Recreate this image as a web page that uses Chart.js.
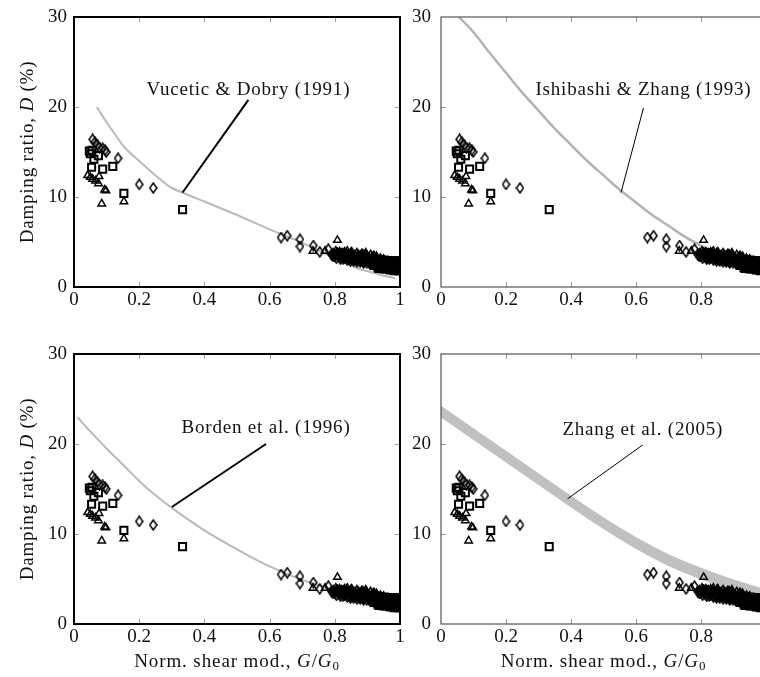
<!DOCTYPE html>
<html><head><meta charset="utf-8">
<script src="https://cdn.jsdelivr.net/npm/chart.js@4/dist/chart.umd.min.js"></script>
<style>
html,body{margin:0;padding:0;background:#fff;overflow:hidden;width:760px;height:677px;}
canvas{position:absolute;}
</style></head><body>
<canvas id="c1" width="420" height="320" style="left:0px;top:0px"></canvas>
<canvas id="c2" width="400" height="320" style="left:400px;top:0px"></canvas>
<canvas id="c3" width="420" height="340" style="left:0px;top:337px"></canvas>
<canvas id="c4" width="400" height="340" style="left:400px;top:337px"></canvas>
<script>
// ---- tick labels ----
const xTickValues = [0, 0.2, 0.4, 0.6, 0.8, 1];
const xTickLabels = ['0', '0.2', '0.4', '0.6', '0.8', '1'];
const yTickValues = [0, 10, 20, 30];
const yTickLabels = ['0', '10', '20', '30'];

// ---- measured data (G/G0, D %) ----
const diamondPts = [
  [0.057,16.4],[0.064,16.1],[0.071,15.8],[0.078,15.5],[0.088,15.4],[0.095,15.2],[0.099,15.0],[0.135,14.3],[0.200,11.4],[0.243,11.0],
  [0.635,5.5],[0.654,5.7],[0.693,5.3],[0.693,4.5],[0.734,4.6],[0.754,3.9],[0.780,4.2],
  [0.790,3.6],[0.800,3.4],[0.808,3.8],[0.815,3.3],[0.822,3.6],[0.830,3.2],[0.836,3.5],[0.843,3.1],[0.850,3.4],[0.856,3.0],
  [0.862,3.3],[0.870,3.2],[0.876,2.9],[0.882,3.1],[0.890,2.8],[0.898,3.0],[0.905,2.7],[0.912,2.9],
  [0.803,3.6],[0.812,3.5],[0.818,3.7],[0.826,3.4],[0.833,3.3],[0.840,3.6],[0.846,3.2],[0.853,3.5],[0.859,3.2],
  [0.866,3.1],[0.873,3.4],[0.879,3.0],[0.886,3.2],[0.893,2.9],[0.901,3.1],[0.908,2.8],[0.916,3.0],[0.920,2.7],
  [0.805,3.2],[0.817,3.1],[0.828,3.7],[0.838,3.0],[0.848,2.9],[0.858,2.9],[0.868,2.8],[0.878,2.8],[0.888,2.7],
  [0.898,2.7],[0.910,2.6],[0.795,3.4],[0.825,3.1],[0.845,3.1],[0.865,3.0],[0.885,2.9],[0.905,2.8]
];
const squarePts = [
  [0.047,15.1],[0.050,14.8],[0.055,15.2],[0.061,14.2],[0.075,14.6],[0.054,13.3],[0.088,13.1],[0.119,13.4],[0.153,10.4],[0.333,8.6],
  [0.918,2.7],[0.924,2.5],[0.930,2.9],[0.934,2.3],[0.940,2.7],[0.945,2.5],[0.950,2.8],[0.954,2.2],[0.958,2.6],[0.963,2.8],
  [0.967,2.3],[0.971,2.0],[0.975,2.6],[0.979,2.8],[0.983,2.2],[0.987,2.5],[0.991,1.9],[0.994,2.7],[0.997,2.3],[1.000,2.0],[1.000,2.6],
  [0.920,2.4],[0.928,2.6],[0.936,2.8],[0.942,2.3],[0.948,2.6],[0.952,2.4],[0.956,2.9],[0.961,2.1],[0.965,2.5],[0.969,2.7],
  [0.973,2.2],[0.977,2.4],[0.981,2.0],[0.985,2.7],[0.989,2.3],[0.993,2.1],[0.996,2.5],[1.000,2.2],[1.000,2.8],[0.990,2.6],
  [0.960,2.4],[0.940,2.5],[0.930,2.6],
  [0.922,2.8],[0.932,2.2],[0.938,3.0],[0.944,2.1],[0.952,3.0],[0.958,2.0],[0.964,2.9],[0.970,1.9],[0.976,2.9],[0.982,1.8],
  [0.988,2.9],[0.995,1.8],[1.000,1.8],[0.998,2.9],[0.950,2.0],[0.935,2.05]
];
const trianglePts = [
  [0.042,12.4],[0.050,12.2],[0.057,12.0],[0.066,11.8],[0.077,12.3],[0.075,11.5],[0.094,10.8],[0.098,10.7],[0.085,9.25],[0.153,9.5],
  [0.733,4.0],[0.770,4.0],[0.808,5.2],
  [0.795,3.8],[0.805,3.5],[0.815,3.9],[0.825,3.6],[0.835,3.8],[0.842,3.4],[0.850,3.7],[0.858,3.5],[0.865,3.3],[0.872,3.6],
  [0.880,3.4],[0.886,3.7],[0.893,3.2],[0.900,3.4],[0.908,3.1],[0.915,3.3],[0.922,3.0],[0.930,3.1],
  [0.800,3.6],[0.810,3.7],[0.820,3.5],[0.830,3.9],[0.840,3.6],[0.848,3.8],[0.855,3.4],[0.862,3.6],[0.870,3.4],
  [0.877,3.5],[0.884,3.3],[0.890,3.5],[0.897,3.6],[0.905,3.3],[0.912,3.2],[0.918,3.4],[0.926,3.2],[0.935,3.0],
  [0.803,4.0],[0.822,3.8],[0.838,4.0],[0.852,3.9],[0.868,3.8],[0.882,3.7],[0.895,3.8],[0.910,3.6],[0.920,3.5],
  [0.928,3.4],[0.940,3.2],[0.950,3.1]
];

// ---- literature curves ----
const vuceticCurve = [[0.07,20.0],[0.10,18.3],[0.155,15.5],[0.20,14.0],[0.25,12.4],[0.30,11.0],[0.40,9.5],[0.50,8.0],[0.60,6.4],[0.70,4.9],[0.80,3.2],[0.867,2.1],[0.90,1.75],[0.95,1.25],[0.975,1.05],[0.985,1.0]];
const ishibashiCurve = [[0.055,30.0],[0.10,28.3],[0.15,26.0],[0.20,23.8],[0.25,21.6],[0.30,19.6],[0.35,17.6],[0.40,15.8],[0.45,14.0],[0.50,12.4],[0.55,10.8],[0.60,9.4],[0.65,8.0],[0.70,6.8],[0.75,5.6],[0.80,4.6],[0.85,3.6],[0.90,2.7],[0.95,2.0],[1.00,1.3]];
const bordenCurve = [[0.01,23.0],[0.05,21.4],[0.10,19.5],[0.15,17.7],[0.20,15.9],[0.25,14.3],[0.30,12.9],[0.40,10.4],[0.50,8.3],[0.60,6.4],[0.70,4.9],[0.80,3.8],[0.90,2.8],[1.00,2.0]];
const zhangUpper = [[0,24.2],[0.1,21.7],[0.2,19.2],[0.3,16.7],[0.4,14.2],[0.5,11.8],[0.6,9.6],[0.7,7.7],[0.8,6.2],[0.9,4.9],[1.0,3.8]];
const zhangLower = [[0,23.0],[0.1,20.5],[0.2,18.0],[0.3,15.5],[0.4,13.0],[0.5,10.6],[0.6,8.4],[0.7,6.5],[0.8,5.0],[0.9,3.7],[1.0,2.6]];

// ---- annotation anchors (data coords) ----
const labelVucetic = {text:'Vucetic & Dobry (1991)', at:[0.535,21.9], leader:[0.333,10.5,0.535,20.8]};
const labelIshibashi = {text:'Ishibashi & Zhang (1993)', at:[0.623,21.9], leader:[0.554,10.5,0.623,19.9]};
const labelBorden = {text:'Borden et al. (1996)', at:[0.589,21.8], leader:[0.300,13.0,0.589,20.0]};
const labelZhang = {text:'Zhang et al. (2005)', at:[0.621,21.6], leader:[0.389,13.9,0.621,19.9]};

const SERIF = "'Liberation Serif', 'Times New Roman', serif";
const toXY = a => a.map(p => ({x:p[0], y:p[1]}));

function makeDiamond(){
  const c = document.createElement('canvas'); c.width = 9; c.height = 12;
  const g = c.getContext('2d');
  g.beginPath(); g.moveTo(4.5,1); g.lineTo(8,6); g.lineTo(4.5,11); g.lineTo(1,6); g.closePath();
  g.lineWidth = 1.5; g.strokeStyle = '#000'; g.stroke();
  return c;
}
const diamondImg = makeDiamond();

function pointSets(){
  return [
    {type:'scatter', data: toXY(diamondPts), pointStyle: diamondImg, pointRadius:4, order:0},
    {type:'scatter', data: toXY(squarePts), pointStyle:'rect', pointRadius:5, borderColor:'#000', borderWidth:2, backgroundColor:'rgba(0,0,0,0)', order:0},
    {type:'scatter', data: toXY(trianglePts), pointStyle:'triangle', pointRadius:4.3, borderColor:'#000', borderWidth:1.5, backgroundColor:'rgba(0,0,0,0)', order:0}
  ];
}
function curveSet(arr, color, width, mono){
  const d = {type:'line', data: toXY(arr), borderColor: color, borderWidth: width, pointRadius:0, fill:false, order:3};
  if (mono) d.cubicInterpolationMode = 'monotone'; else d.tension = 0.15;
  return d;
}

function drawRich(ctx, segs, cx, cy, spacing){
  const parts = segs.map(s => {
    const size = s.sub ? 13 : 19;
    const font = (s.it ? 'italic ' : '') + size + 'px ' + SERIF;
    ctx.font = font; ctx.letterSpacing = spacing + 'px';
    return {t:s.t, font, w: ctx.measureText(s.t).width, dy: s.sub ? 5 : 0};
  });
  const total = parts.reduce((a,p)=>a+p.w,0);
  let x = cx - total/2;
  ctx.textAlign = 'left'; ctx.textBaseline = 'middle';
  parts.forEach(p => { ctx.font = p.font; ctx.letterSpacing = spacing + 'px'; ctx.fillText(p.t, x, cy + p.dy); x += p.w; });
  ctx.letterSpacing = '0px';
}

const panelPlugin = {
  id: 'panel',
  afterDatasetsDraw(chart, args, o){
    const ctx = chart.ctx, a = chart.chartArea, xs = chart.scales.x, ys = chart.scales.y;
    ctx.save();
    ctx.strokeStyle = '#9a9a9a'; ctx.lineWidth = 1;
    ctx.beginPath();
    xTickValues.forEach(v => {
      if (v <= 0 || v >= 1) return;
      const px = Math.round(xs.getPixelForValue(v)) + 0.5;
      ctx.moveTo(px, a.bottom); ctx.lineTo(px, a.bottom - 5);
      ctx.moveTo(px, a.top); ctx.lineTo(px, a.top + 5);
    });
    yTickValues.forEach(v => {
      if (v <= 0 || v >= 30) return;
      const py = Math.round(ys.getPixelForValue(v)) + 0.5;
      ctx.moveTo(a.left, py); ctx.lineTo(a.left + 5, py);
      ctx.moveTo(a.right, py); ctx.lineTo(a.right - 5, py);
    });
    ctx.stroke();
    ctx.strokeStyle = o.frameColor; ctx.lineWidth = o.frameWidth;
    ctx.strokeRect(a.left, a.top, a.right - a.left, a.bottom - a.top);
    const L = o.label;
    ctx.strokeStyle = '#000'; ctx.lineWidth = o.leaderWidth;
    ctx.beginPath();
    ctx.moveTo(xs.getPixelForValue(L.leader[0]), ys.getPixelForValue(L.leader[1]));
    ctx.lineTo(xs.getPixelForValue(L.leader[2]), ys.getPixelForValue(L.leader[3]));
    ctx.stroke();
    ctx.fillStyle = '#111';
    drawRich(ctx, [{t:L.text}], xs.getPixelForValue(L.at[0]), ys.getPixelForValue(L.at[1]), 0.8);
    if (o.yTitle){
      ctx.save();
      ctx.translate(28, (a.top + a.bottom)/2);
      ctx.rotate(-Math.PI/2);
      drawRich(ctx, [{t:'Damping ratio, '},{t:'D', it:true},{t:' (%)'}], 0, 0, 0.8);
      ctx.restore();
    }
    if (o.xTitle){
      drawRich(ctx, [{t:'Norm. shear mod., '},{t:'G', it:true},{t:'/'},{t:'G', it:true},{t:'0', sub:true}], (a.left + a.right)/2, a.bottom + 38, 0.9);
    }
    ctx.restore();
  }
};

function makeChart(id, curves, opts){
  const tickFont = {family: SERIF, size: 19};
  new Chart(document.getElementById(id), {
    type: 'scatter',
    data: { datasets: pointSets().concat(curves) },
    options: {
      responsive: false, animation: false, events: [],
      layout: { padding: { top: 17, right: opts.padRight, left: 0, bottom: 0 } },
      plugins: { legend: {display:false}, tooltip: {enabled:false}, panel: opts },
      scales: {
        x: {
          type: 'linear', min: 0, max: 1,
          grid: {display:false, drawTicks:false}, border: {display:false},
          afterBuildTicks: s => { s.ticks = xTickValues.map(v => ({value:v})); },
          afterFit: s => { s.height = opts.xAxisH; s.paddingLeft = 0; s.paddingRight = 0; },
          ticks: { font: tickFont, color:'#111', padding: 2, maxRotation: 0, autoSkip: false,
                   callback: (v, i) => xTickLabels[i] }
        },
        y: {
          type: 'linear', min: 0, max: 30,
          grid: {display:false, drawTicks:false}, border: {display:false},
          afterBuildTicks: s => { s.ticks = yTickValues.map(v => ({value:v})); },
          afterFit: s => { s.width = opts.yAxisW; s.paddingTop = 0; s.paddingBottom = 0; },
          ticks: { font: tickFont, color:'#111', padding: opts.yPad, autoSkip: false,
                   callback: (v, i) => yTickLabels[i] }
        }
      }
    },
    plugins: [panelPlugin]
  });
}

makeChart('c1', [curveSet(vuceticCurve, '#b9b9b9', 2, false)],
  {padRight:20, xAxisH:33, yAxisW:74, yPad:7, frameColor:'#000', frameWidth:2, leaderWidth:2, label: labelVucetic, yTitle:true, xTitle:false});
makeChart('c2', [curveSet(ishibashiCurve, '#b3b3b3', 2.5, true)],
  {padRight:34, xAxisH:33, yAxisW:41, yPad:10, frameColor:'#333', frameWidth:1, leaderWidth:1, label: labelIshibashi, yTitle:false, xTitle:false});
makeChart('c3', [curveSet(bordenCurve, '#b9b9b9', 2, true)],
  {padRight:20, xAxisH:53, yAxisW:74, yPad:7, frameColor:'#000', frameWidth:2, leaderWidth:2, label: labelBorden, yTitle:true, xTitle:true});
makeChart('c4', [
  {type:'line', data: toXY(zhangUpper), borderColor:'#c0c0c0', borderWidth:1, pointRadius:0, cubicInterpolationMode:'monotone', fill:'+1', backgroundColor:'#c0c0c0', order:3},
  {type:'line', data: toXY(zhangLower), borderColor:'#c0c0c0', borderWidth:1, pointRadius:0, cubicInterpolationMode:'monotone', fill:false, order:4}
], {padRight:34, xAxisH:53, yAxisW:41, yPad:10, frameColor:'#333', frameWidth:1, leaderWidth:1, label: labelZhang, yTitle:false, xTitle:true});
</script>
</body></html>
